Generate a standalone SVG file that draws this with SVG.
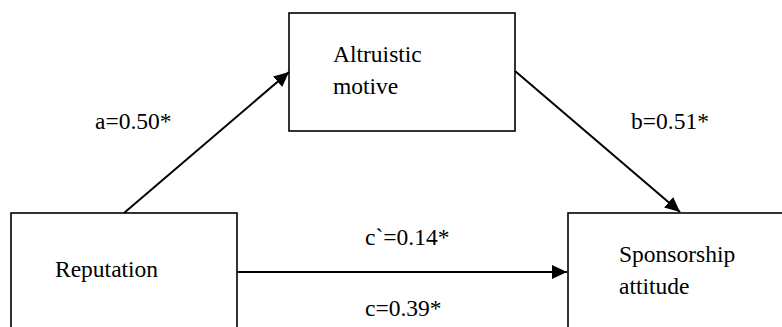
<svg xmlns="http://www.w3.org/2000/svg" width="782" height="327" viewBox="0 0 782 327">
<style>
.box{fill:#fff;stroke:#000;stroke-width:1.6}
.t{font-family:"Liberation Serif","Times New Roman",serif;font-size:23.5px;fill:#000}
.c{stroke:#000;stroke-width:2;fill:none}
</style>
<defs>
<marker id="ah" viewBox="0 0 15 14" refX="15" refY="7" markerWidth="15" markerHeight="14" markerUnits="userSpaceOnUse" orient="auto">
<path d="M0,0 L15,7 L0,14 Z" fill="#000"/>
</marker>
</defs>
<rect width="782" height="327" fill="#fff"/>
<g id="altruistic">
<rect class="box" x="289" y="13" width="226" height="118"/>
<text class="t" x="333" y="62">Altruistic</text>
<text class="t" x="333" y="94">motive</text>
</g>
<g id="reputation">
<rect class="box" x="11" y="213" width="226" height="130"/>
<text class="t" x="55" y="277">Reputation</text>
</g>
<g id="sponsorship">
<rect class="box" x="568" y="213" width="230" height="130"/>
<text class="t" x="619" y="262">Sponsorship</text>
<text class="t" x="619" y="294">attitude</text>
</g>
<g id="connectors">
<line class="c" x1="124" y1="213" x2="289" y2="72" marker-end="url(#ah)"/>
<line class="c" x1="515" y1="71" x2="680" y2="212" marker-end="url(#ah)"/>
<line class="c" x1="237" y1="272" x2="567" y2="272" marker-end="url(#ah)"/>
<text class="t" x="95" y="129">a=0.50*</text>
<text class="t" x="631" y="129">b=0.51*</text>
<text class="t" x="365" y="245">c`=0.14*</text>
<text class="t" x="365" y="316">c=0.39*</text>
</g>
</svg>
